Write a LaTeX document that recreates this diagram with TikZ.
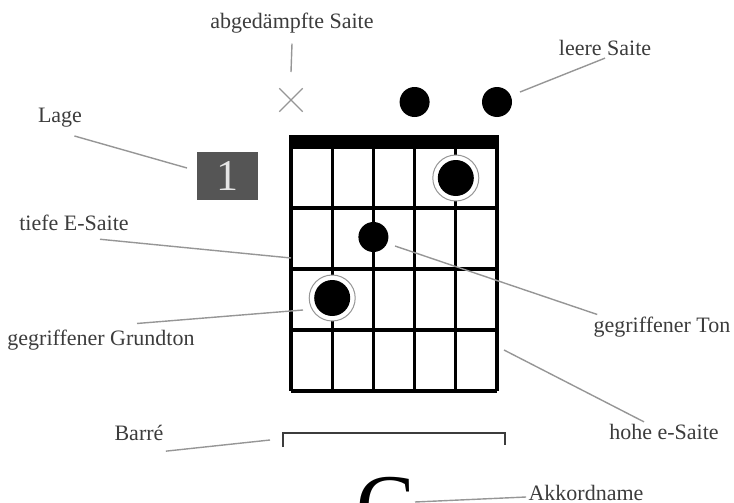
\documentclass[tikz,border=0pt]{standalone}
\usepackage{fontspec}
\setmainfont{Liberation Serif}
\usetikzlibrary{positioning, shapes.misc}
\definecolor{labelgray}{RGB}{60, 60, 60}
\definecolor{leadgray}{RGB}{150, 150, 150}
\definecolor{lagegray}{RGB}{85, 85, 85}

\begin{document}
\begin{tikzpicture}[
  x=0.5pt, y=-0.5pt,
  lbl/.style={font=\fontsize{11}{13}\selectfont, text=labelgray, inner sep=1pt},
  lead/.style={draw=leadgray, line width=0.7pt},
  fretline/.style={line width=1.6pt, color=black},
  tone/.style={circle, fill=black, inner sep=0pt, minimum size=#1},
  ring/.style={circle, draw=leadgray, line width=0.5pt, fill=white,
               inner sep=0pt, minimum size=23pt}
]
  \useasboundingbox (0,0) rectangle (734,503);
  \clip (0,0) rectangle (734,503);

  % Griffbrett
  \fill (289.4,135) rectangle (498.6,147);
  \foreach \s in {0,...,5}
    \draw[fretline] (291+41.2*\s,147) -- (291+41.2*\s,391);
  \foreach \f in {147,208,269,330,391}
    \draw[fretline] (291,\f) -- (497,\f);

  % Töne
  \node[ring] (r1) at (455.8,178) {};
  \node[tone=18pt] (t1) at (r1) {};
  \node[tone=15pt] (t2) at (373.4,237) {};
  \node[ring] (r3) at (332.2,298) {};
  \node[tone=18pt] (t3) at (r3) {};
  \node[tone=15pt] (o4) at (414.6,102) {};
  \node[tone=15pt] (o6) at (497,102) {};
  \node[cross out, draw=leadgray, line width=0.7pt, minimum size=11pt, inner sep=0pt] (mute) at (291,100) {};

  % Lage
  \node[fill=lagegray, minimum width=30.5pt, minimum height=24pt, inner sep=0pt,
        text=white!80!gray, font=\fontsize{22}{22}\selectfont] (lage) at (227.5,176) {1};

  % Barré
  \draw[draw=labelgray, line width=0.8pt] (283,447) -- (283,433) -- (505,433) -- (505,445);

  % Akkordname
  \node[font=\fontsize{44}{44}\selectfont, anchor=north, inner sep=0pt] (chord) at (386,477) {C};

  % Beschriftung
  \node[lbl] (abg) at (292,23) {abgedämpfte Saite};
  \node[lbl] (leer) at (605,48) {leere Saite};
  \node[lbl] (lagetxt) at (60,118) {Lage};
  \node[lbl] (tiefe) at (74,223) {tiefe E-Saite};
  \node[lbl] (grund) at (101,340) {gegriffener Grundton};
  \node[lbl] (barre) at (139,433) {Barré};
  \node[lbl] (ton) at (662,327) {gegriffener Ton};
  \node[lbl] (hohe) at (664,432) {hohe e-Saite};
  \node[lbl] (akk) at (586,493) {Akkordname};

  \coordinate (mutetop) at (291,72);
  \coordinate (lageend) at (187,168);
  \coordinate (tiefeend) at (291,258);
  \coordinate (grundend) at (303,310);
  \coordinate (barreend) at (270,440);
  \coordinate (tonend) at (395,246);
  \coordinate (hoheend) at (504,350);
  \coordinate (leerend) at (520,92);
  \coordinate (akkend) at (415,502);

  \draw[lead] ([yshift=-4pt]abg.south) -- (mutetop);
  \draw[lead] (leer.south) -- (leerend);
  \draw[lead] ([xshift=-5pt,yshift=-3pt]lagetxt.south east) -- (lageend);
  \draw[lead] ([xshift=13pt,yshift=-3pt]tiefe.south) -- (tiefeend);
  \draw[lead] ([xshift=18pt,yshift=2pt]grund.north) -- (grundend);
  \draw[lead] ([yshift=-4pt]barre.south east) -- (barreend);
  \draw[lead] ([xshift=3pt]ton.north west) -- (tonend);
  \draw[lead] ([xshift=-10pt]hohe.north) -- (hoheend);
  \draw[lead] ([yshift=-2pt]akk.west) -- (akkend);
\end{tikzpicture}
\end{document}
